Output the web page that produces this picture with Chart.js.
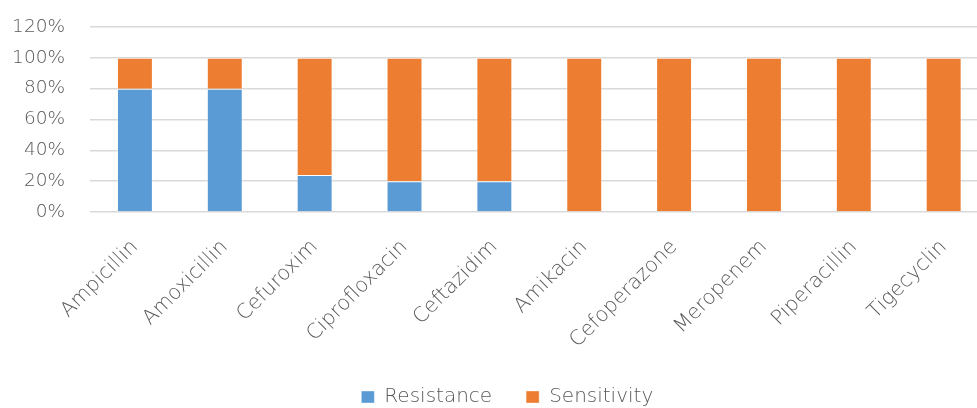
<!DOCTYPE html>
<html>
<head>
<meta charset="utf-8">
<script src="https://cdn.jsdelivr.net/npm/chart.js@4/dist/chart.umd.min.js"></script>
<style>
  html, body { margin: 0; padding: 0; background: #fff; overflow: hidden; }
  #wrap { width: 1012px; height: 408px; position: relative; }
</style>
</head>
<body>
<div id="wrap"><canvas id="c"></canvas></div>
<script>
// Antibiotic susceptibility: share of isolates resistant vs. sensitive
const antibiotics = ['Ampicillin', 'Amoxicillin', 'Cefuroxim', 'Ciprofloxacin', 'Ceftazidim',
  'Amikacin', 'Cefoperazone', 'Meropenem', 'Piperacillin', 'Tigecyclin'];
const resistance = [80, 80, 24, 20, 20, 0, 0, 0, 0, 0];
const sensitivity = [20, 20, 76, 80, 80, 100, 100, 100, 100, 100];
const yTicks = [0, 20, 40, 60, 80, 100, 120];

const FONT = "'DejaVu Sans', sans-serif";
const TEXT = '#595959';
const HEIGHT = 408;
const PLOT_BOTTOM = 212;
const PAD_BOTTOM = -9;
const LEGEND_SHIFT = 13;

// Chart.js offsets a centred legend row by half its item padding; move it back to centre.
const legendCentre = {
  id: 'legendCentre',
  afterLayout(chart) {
    if (chart.legend) {
      chart.legend.left += LEGEND_SHIFT;
      chart.legend.right += LEGEND_SHIFT;
    }
  }
};

new Chart(document.getElementById('c'), {
  type: 'bar',
  data: {
    labels: antibiotics,
    datasets: [
      { label: 'Resistance', data: resistance, backgroundColor: '#5b9bd5',
        borderColor: 'rgba(255,255,255,0.35)', borderWidth: 1,
        barPercentage: 0.4, categoryPercentage: 1.0 },
      { label: 'Sensitivity', data: sensitivity, backgroundColor: '#ed7d31',
        borderColor: 'rgba(255,255,255,0.35)', borderWidth: 1,
        barPercentage: 0.4, categoryPercentage: 1.0 }
    ]
  },
  plugins: [legendCentre],
  options: {
    responsive: true,
    maintainAspectRatio: false,
    animation: false,
    layout: { padding: { top: 27, right: 23.4, bottom: PAD_BOTTOM, left: 0 } },
    plugins: {
      tooltip: { enabled: false },
      legend: {
        position: 'bottom',
        labels: {
          font: { family: FONT, size: 20, weight: 300 },
          color: TEXT,
          boxWidth: 13,
          boxHeight: 12,
          padding: 34
        }
      }
    },
    scales: {
      x: {
        stacked: true,
        grid: { display: false },
        border: { display: false },
        ticks: {
          font: { family: FONT, size: 20.5, weight: 300 },
          color: TEXT,
          maxRotation: 45,
          minRotation: 45,
          padding: 15,
          autoSkip: false
        },
        afterFit(s) {
          const lg = s.chart.legend ? s.chart.legend.height : 0;
          s.height = HEIGHT - PLOT_BOTTOM - lg - PAD_BOTTOM;
        }
      },
      y: {
        stacked: true,
        min: 0,
        max: 120,
        afterBuildTicks(s) { s.ticks = yTicks.map(v => ({ value: v })); },
        grid: { color: '#d9d9d9', lineWidth: 1.5, drawTicks: true, tickLength: 15, tickColor: 'rgba(0,0,0,0)' },
        border: { display: false },
        ticks: {
          font: { family: FONT, size: 18.5, weight: 300 },
          color: TEXT,
          padding: 10,
          callback: v => v + '%'
        },
        afterFit(s) { s.width = 90; }
      }
    }
  }
});
</script>
</body>
</html>
